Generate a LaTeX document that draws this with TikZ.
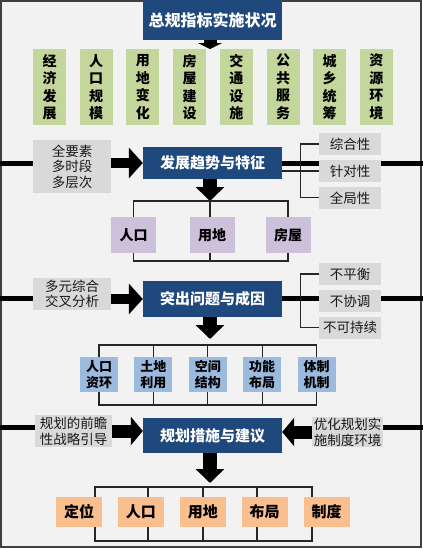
\documentclass[tikz,border=0pt]{standalone}
\usepackage{fontspec}
\setmainfont{Noto Sans CJK SC}
\usetikzlibrary{positioning,arrows.meta}

\definecolor{navy}{RGB}{31,73,125}
\definecolor{itemgreen}{RGB}{195,214,155}
\definecolor{catpurple}{RGB}{204,192,218}
\definecolor{issueblue}{RGB}{155,186,221}
\definecolor{measureorange}{RGB}{250,191,143}
\definecolor{notegray}{RGB}{217,217,217}
\definecolor{bggray}{RGB}{242,242,242}
\definecolor{framegray}{RGB}{64,64,64}

\begin{document}
\begin{tikzpicture}[x=1pt,y=-1pt,
  box/.style={inner sep=0pt,align=center},
  mainbox/.style={box,fill=navy,text=white,minimum width=139pt,font=\fontsize{15}{18}\selectfont\bfseries},
  itembox/.style={box,fill=itemgreen,minimum width=33pt,minimum height=76pt,font=\fontsize{14}{17.5}\selectfont\bfseries},
  catbox/.style={box,fill=catpurple,minimum width=45pt,minimum height=36pt,font=\fontsize{14}{17}\selectfont\bfseries},
  issuebox/.style={box,fill=issueblue,minimum width=38pt,minimum height=35pt,font=\fontsize{13}{15.5}\selectfont\bfseries},
  measurebox/.style={box,fill=measureorange,minimum width=46pt,minimum height=30pt,font=\fontsize{15}{18}\selectfont\bfseries},
  sidebox/.style={box,fill=notegray,text=black!90,font=\fontsize{13.5}{15.5}\selectfont},
  notebox/.style={sidebox,minimum width=62pt,minimum height=22.5pt},
  axis/.style={line width=5pt},
  link/.style={line width=1.2pt,black!85},
  bigarrow/.style={line width=10pt,-{Triangle[width=30pt,length=14pt]}},
  widearrow/.style={line width=13pt,-{Triangle[width=28pt,length=12pt]}},
  downarrow/.style={line width=14pt,-{Triangle[width=28pt,length=14pt]}}
]
\useasboundingbox (0,0) rectangle (423,549);
\draw[fill=bggray,draw=framegray,line width=2pt] (1,1) rectangle (421,547);

% top: indicators
\node[mainbox,minimum height=40pt,font=\fontsize{16}{19}\selectfont\bfseries] (title) at (212.5,20) {总规指标实施状况};
\coordinate (a1) at (210,49);
\draw[line width=13pt,-{Triangle[width=24pt,length=6pt]}] (title.south -| a1) -- (a1);
\node[itembox] (i1) at (49.5,87) {经\\济\\发\\展};
\node[itembox,right=13.3pt of i1] (i2) {人\\口\\规\\模};
\node[itembox,right=13.3pt of i2] (i3) {用\\地\\变\\化};
\node[itembox,right=13.3pt of i3] (i4) {房\\屋\\建\\设};
\node[itembox,right=13.3pt of i4] (i5) {交\\通\\设\\施};
\node[itembox,right=13.3pt of i5] (i6) {公\\共\\服\\务};
\node[itembox,right=13.3pt of i6] (i7) {城\\乡\\统\\筹};
\node[itembox,right=13.3pt of i7] (i8) {资\\源\\环\\境};

% trends
\node[sidebox,minimum width=78pt,minimum height=53pt] (s2) at (72,166.5) {全要素\\多时段\\多层次};
\node[mainbox,minimum height=32pt] (trend) at (212.5,163) {发展趋势与特征};
\node[notebox] (r21) at (350,144) {综合性};
\node[notebox,below=4pt of r21] (r22) {针对性};
\node[notebox,below=4pt of r22] (r23) {全局性};
\coordinate (w2) at (0,163);
\coordinate (e2) at (423,163);
\draw[axis] (w2) -- (w2 -| s2.west);
\draw[bigarrow] (s2.east |- trend) -- (trend.west);
\draw[axis] (trend.east) -- (trend.east -| r22.west);
\draw[axis] (e2 -| r22.east) -- (e2);
\draw[link] (trend.east |- r22.west) -- (r22.west);
\draw[link] (r21.west) -| ([xshift=-18pt]r23.west) -- (r23.west);
\coordinate (t2) at (210,201);
\coordinate (u2) at (210,261);
\draw[downarrow] (trend.south -| t2) -- (t2);
\node[catbox] (p2) at (212,235) {用地};
\node[catbox] (p1) at (133.5,235) {人口};
\node[catbox] (p3) at (288,235) {房屋};
\draw[link] (p1.north) |- (t2) -| (p3.north);
\draw[link] (t2) -- (t2 |- p2.north);
\draw[link] (p1.south) |- (u2) -| (p3.south);
\draw[link] (u2) -- (u2 |- p2.south);

% issues
\node[sidebox,minimum width=78pt,minimum height=32pt] (s3) at (72,294) {多元综合\\交叉分析};
\node[mainbox,minimum height=36pt] (issue) at (212.5,299) {突出问题与成因};
\node[notebox] (r31) at (350,274) {不平衡};
\node[notebox,below=4pt of r31] (r32) {不协调};
\node[notebox,below=4pt of r32] (r33) {不可持续};
\coordinate (w3) at (0,298);
\coordinate (e3) at (423,298);
\draw[axis] (w3) -- (w3 -| s3.west);
\draw[bigarrow] (s3.east |- issue) -- (issue.west);
\draw[axis] (issue.east |- w3) -- (w3 -| r32.west);
\draw[axis] (e3 -| r32.east) -- (e3);
\draw[link] (r31.west) -| ([xshift=-18pt]r33.west) -- (r33.west);
\coordinate (a3) at (210,339);
\draw[downarrow] (issue.south -| a3) -- (a3);
\node[issuebox] (q1) at (99,374.5) {人口\\资环};
\node[issuebox,right=16pt of q1] (q2) {土地\\利用};
\node[issuebox,right=16pt of q2] (q3) {空间\\结构};
\node[issuebox,right=16pt of q3] (q4) {功能\\布局};
\node[issuebox,right=16pt of q4] (q5) {体制\\机制};
\coordinate (t3) at (207,345);
\coordinate (u3) at (207,405);
\draw[link] (q1.north) |- (t3) -| (q5.north);
\draw[link] (q2.north) -- (q2.north |- t3);
\draw[link] (q3.north) -- (q3.north |- t3);
\draw[link] (q4.north) -- (q4.north |- t3);
\draw[link] (q1.south) |- (u3) -| (q5.south);
\draw[link] (q2.south) -- (q2.south |- u3);
\draw[link] (q3.south) -- (q3.south |- u3);
\draw[link] (q4.south) -- (q4.south |- u3);

% measures
\node[sidebox,minimum width=77pt,minimum height=32pt,font=\fontsize{13.5}{16}\selectfont] (s4) at (73.5,431) {规划的前瞻\\性战略引导};
\node[mainbox,minimum height=35pt] (action) at (212.5,435.5) {规划措施与建议};
\node[sidebox,minimum width=71pt,minimum height=30pt,font=\fontsize{13.5}{16}\selectfont] (r4) at (347.5,432) {优化规划实\\施制度环境};
\coordinate (w4) at (0,427);
\coordinate (e4) at (423,427);
\draw[axis] (w4) -- (w4 -| s4.west);
\draw[axis] (e4 -| r4.east) -- (e4);
\draw[widearrow] (s4.east) -- (action.west |- s4.east);
\draw[widearrow] (r4.west) -- (action.east |- r4.west);
\coordinate (a4) at (210,483);
\draw[downarrow] (action.south -| a4) -- (a4);
\node[measurebox] (o1) at (79,512) {定位};
\node[measurebox,right=15.5pt of o1] (o2) {人口};
\node[measurebox,right=15.5pt of o2] (o3) {用地};
\node[measurebox,right=15.5pt of o3] (o4) {布局};
\node[measurebox,right=15.5pt of o4] (o5) {制度};
\coordinate (k1) at (95,487);
\coordinate (k2) at (148,487);
\coordinate (k3) at (203,487);
\coordinate (k4) at (257,487);
\coordinate (k5) at (312,487);
\coordinate (m1) at (95,541);
\coordinate (m5) at (312,541);
\draw[link] (k1 |- o1.north) -- (k1) -- (k5) -- (k5 |- o5.north);
\draw[link] (k2) -- (k2 |- o2.north);
\draw[link] (k3) -- (k3 |- o3.north);
\draw[link] (k4) -- (k4 |- o4.north);
\draw[link] (m1 |- o1.south) -- (m1) -- (m5) -- (m5 |- o5.south);
\draw[link] (k2 |- o2.south) -- (k2 |- m1);
\draw[link] (k3 |- o3.south) -- (k3 |- m1);
\draw[link] (k4 |- o4.south) -- (k4 |- m1);
\end{tikzpicture}
\end{document}
